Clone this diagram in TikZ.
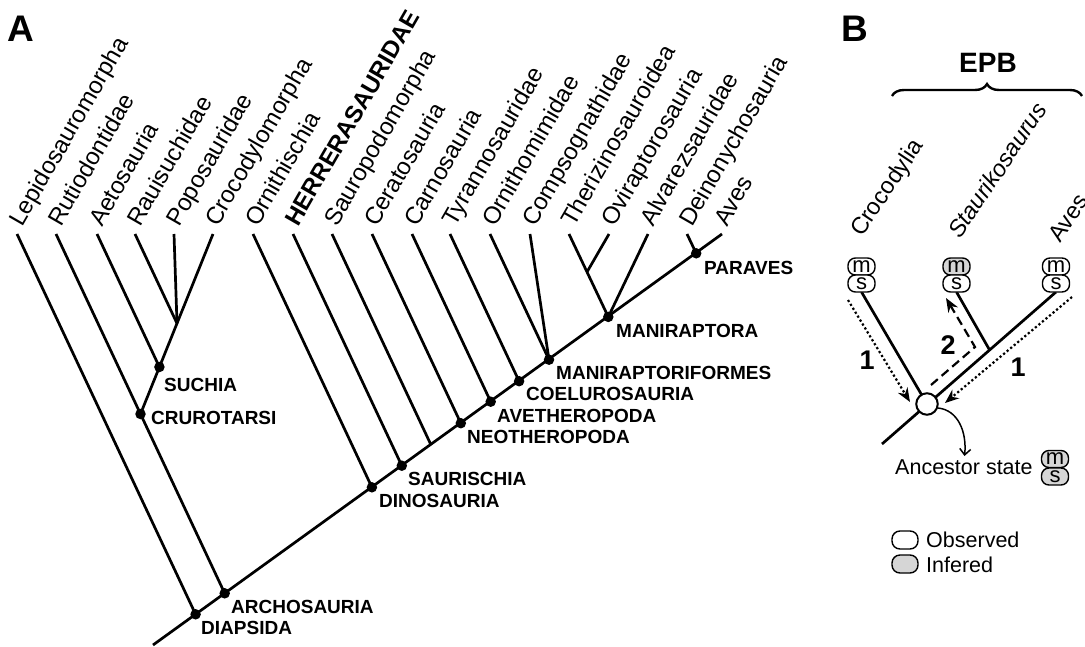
\documentclass[tikz,border=0pt]{standalone}
\usepackage{fontspec}
\setmainfont{Liberation Sans}
\usetikzlibrary{arrows.meta,decorations.pathreplacing}
\definecolor{infgray}{RGB}{214,214,214}
\begin{document}
\begin{tikzpicture}[x=1pt,y=-1pt,
  br/.style={line width=2.7pt},
  dotnode/.style={circle,fill=black,inner sep=0pt,minimum size=10.5pt},
  tiplab/.style={rotate=60,anchor=base west,inner sep=0pt,font=\fontsize{24}{24}\selectfont},
  tiplabB/.style={rotate=56,anchor=base west,inner sep=0pt,font=\fontsize{23.5}{23.5}\selectfont},
  cladelab/.style={anchor=west,inner sep=0pt,font=\fontsize{19}{19}\selectfont\bfseries},
  panellab/.style={inner sep=0pt,font=\fontsize{37}{37}\selectfont\bfseries},
  numlab/.style={inner sep=0pt,font=\fontsize{27}{27}\selectfont\bfseries},
  plainlab/.style={anchor=west,inner sep=0pt,font=\fontsize{21.5}{21.5}\selectfont},
  msbox/.style={draw,line width=1.4pt,rounded corners=7.5pt,minimum width=27pt,minimum height=17pt,inner sep=0pt,fill=white,font=\fontsize{22}{22}\selectfont},
  grbox/.style={msbox,fill=infgray},
  dotarrow/.style={line width=2.2pt,dash pattern=on 2.2pt off 2.4pt,-{Stealth[length=14pt,width=11pt]}},
  dasharrow/.style={line width=2.2pt,dash pattern=on 9pt off 5pt,-{Stealth[length=14pt,width=11pt]}}
]
\useasboundingbox (0,0) rectangle (1085,646);

% ---------------- Panel A ----------------
\node[panellab] (labA) at (21,28.5) {A};

\foreach \n/\x/\t in {lep/17/Lepidosauromorpha, rut/56/Rutiodontidae, aet/97/Aetosauria,
  rau/135/Rauisuchidae, pop/174/Poposauridae, cro/213/Crocodylomorpha, orn/253/Ornithischia,
  her/293/{\textbf{HERRERASAURIDAE}}, sau/332/Sauropodomorpha, cer/372/Ceratosauria,
  car/412/Carnosauria, tyr/450/Tyrannosauridae, omm/490/Ornithomimidae,
  com/530/Compsognathidae, the/569/Therizinosauroidea, ovi/609/Oviraptorosauria,
  alv/648/Alvarezsauridae, dei/687/Deinonychosauria, ave/722/Aves}{
  \coordinate (\n) at (\x,234);
  \node[tiplab] (l\n) at (\x+5,228) {\t};
}

\coordinate (root) at (153,645);
\coordinate (diap) at (195.6,614.3);
\coordinate (arch) at (224.7,593.3);
\coordinate (crur) at (140.5,414);
\coordinate (such) at (159.4,367);
\coordinate (j1) at (177,323.4);
\coordinate (dino) at (371.9,487.3);
\coordinate (saur) at (401.8,465.7);
\coordinate (sj) at (430.9,444.7);
\coordinate (neot) at (460.8,423.2);
\coordinate (avet) at (490.7,401.7);
\coordinate (coel) at (519.1,381.2);
\coordinate (manf) at (549.0,359.7);
\coordinate (mani) at (608.3,316.9);
\coordinate (oj) at (587,272);
\coordinate (para) at (696.2,253.3);

\draw[br] (root) -- (ave);
\draw[br] (lep) -- (diap);
\draw[br] (rut) -- (arch);
\draw[br] (aet) -- (such);
\draw[br] (rau) -- (j1);
\draw[br] (pop) -- (j1);
\draw[br] (cro) -- (crur);
\draw[br] (orn) -- (dino);
\draw[br] (her) -- (saur);
\draw[br] (sau) -- (sj);
\draw[br] (cer) -- (neot);
\draw[br] (car) -- (avet);
\draw[br] (tyr) -- (coel);
\draw[br] (omm) -- (manf);
\draw[br] (com) -- (manf);
\draw[br] (the) -- (mani);
\draw[br] (ovi) -- (oj);
\draw[br] (alv) -- (mani);
\draw[br] (dei) -- (para);

\foreach \c in {diap,arch,crur,such,dino,saur,neot,avet,coel,manf,mani,para}
  \node[dotnode] (d\c) at (\c) {};

\node[cladelab] (tSuch) at (164,385) {SUCHIA};
\node[cladelab] (tCrur) at (151,418) {CRUROTARSI};
\node[cladelab] (tArch) at (231,607) {ARCHOSAURIA};
\node[cladelab] (tDiap) at (201,628) {DIAPSIDA};
\node[cladelab] (tDino) at (379,501) {DINOSAURIA};
\node[cladelab] (tSaur) at (408,479) {SAURISCHIA};
\node[cladelab] (tNeot) at (467,437) {NEOTHEROPODA};
\node[cladelab] (tAvet) at (497,416) {AVETHEROPODA};
\node[cladelab] (tCoel) at (526,394) {COELUROSAURIA};
\node[cladelab] (tManf) at (556,373) {MANIRAPTORIFORMES};
\node[cladelab] (tMani) at (616,331) {MANIRAPTORA};
\node[cladelab] (tPara) at (704,268) {PARAVES};

% ---------------- Panel B ----------------
\node[panellab] (labB) at (855,28.5) {B};
\node[inner sep=0pt,font=\fontsize{28}{28}\selectfont\bfseries] (epb) at (988,63) {EPB};
\coordinate (brL) at (892,96);
\coordinate (brR) at (1082,96);
\draw[line width=2.4pt,decorate,decoration={brace,amplitude=12pt}] (brL) -- (brR);

\node[tiplabB] (lCroc) at (862,238) {Crocodylia};
\node[tiplabB] (lStau) at (960,240) {\itshape Staurikosaurus};
\node[tiplabB] (lAves) at (1060,244) {Aves};

\coordinate (bstart) at (882,444);
\coordinate (sj2) at (989.7,350.2);
\coordinate (cc) at (927,404);

% branches
\draw[br] (861.5,292) coordinate (cTop) -- (cc);
\draw[br] (956.5,292) coordinate (sTop) -- (sj2);
\draw[br] (bstart) -- (1056,292) coordinate (aTop);

% icons
\node[msbox] (mC) at (861.5,266.5) {m};
\node[msbox] (sC) at (861.5,283.5) {s};
\node[grbox] (mS) at (956.5,266.5) {m};
\node[msbox] (sS) at (956.5,283.5) {s};
\node[msbox] (mA) at (1056,266.5) {m};
\node[msbox] (sA) at (1056,283.5) {s};

% arrows
\coordinate (d1a) at (848,300);
\coordinate (d1b) at (910,402);
\coordinate (d2a) at (1072,297);
\coordinate (d2b) at (945,403);
\draw[dotarrow] (d1a) -- (d1b);
\draw[dotarrow] (d2a) -- (d2b);
\coordinate (da) at (931,385);
\coordinate (dm) at (975,347);
\coordinate (db) at (946,298);
\draw[dasharrow] (da) -- (dm) -- (db);

\node[circle,draw,line width=2pt,fill=white,minimum size=21.5pt,inner sep=0pt] (anc) at (cc) {};

\node[numlab] (n1a) at (867,360) {1};
\node[numlab] (n2) at (948,345) {2};
\node[numlab] (n1b) at (1018,367) {1};

\coordinate (ce) at (964.5,456);
\draw[line width=1.5pt,-{Straight Barb[length=6pt,width=11pt]}] (anc.-20) .. controls (958,410) and (967,432) .. (ce);

\node[plainlab] (anct) at (895,467) {Ancestor state};
\node[grbox] (mX) at (1055,459) {m};
\node[grbox] (sX) at (1055,476.5) {s};

% legend
\node[msbox,minimum width=26pt,minimum height=18pt,rounded corners=8pt] (obs) at (905,540) {};
\node[grbox,minimum width=26pt,minimum height=18pt,rounded corners=8pt] (inf) at (905,564) {};
\node[plainlab] (obst) at (926,540) {Observed};
\node[plainlab] (inft) at (926,565) {Infered};
\end{tikzpicture}
\end{document}
